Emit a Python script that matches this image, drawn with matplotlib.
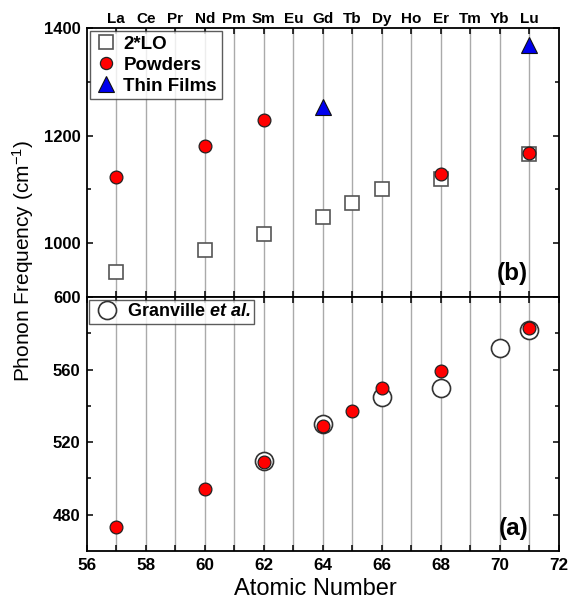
import matplotlib
matplotlib.use("Agg")
import matplotlib.pyplot as plt
from matplotlib.ticker import MultipleLocator, FixedLocator

plt.rcParams['font.family'] = ['Liberation Sans', 'DejaVu Sans']
plt.rcParams['mathtext.fontset'] = 'custom'
plt.rcParams['mathtext.rm'] = 'Liberation Sans'
plt.rcParams['mathtext.it'] = 'Liberation Sans:italic'
plt.rcParams['mathtext.bf'] = 'Liberation Sans:bold'
plt.rcParams['mathtext.bfit'] = 'Liberation Sans:italic:bold'

elements = ["La", "Ce", "Pr", "Nd", "Pm", "Sm", "Eu", "Gd", "Tb", "Dy", "Ho", "Er", "Tm", "Yb", "Lu"]
element_z = [57, 58, 59, 60, 61, 62, 63, 64, 65, 66, 67, 68, 69, 70, 71]

# top panel (b)
lo2_z = [57, 60, 62, 64, 65, 66, 68, 71]
lo2_f = [946, 988, 1018, 1048, 1074, 1100, 1119, 1166]
powder2_z = [57, 60, 62, 68, 71]
powder2_f = [1124, 1181, 1229, 1128, 1168]
film_z = [64, 71]
film_f = [1253, 1369]

# bottom panel (a)
gran_z = [62, 64, 66, 68, 70, 71]
gran_f = [509.7, 530, 545, 550, 572, 582]
powder_z = [57, 60, 62, 64, 65, 66, 68, 71]
powder_f = [473, 494, 509, 529, 537, 550, 559, 583]

fig = plt.figure(figsize=(5.72, 5.99), dpi=100)
L, R = 0.1516, 0.9773
axb = fig.add_axes([L, 0.5042, R - L, 0.9528 - 0.5042])
axa = fig.add_axes([L, 0.0801, R - L, 0.5042 - 0.0801])

for ax in (axa, axb):
    ax.set_xlim(56, 72)
    for z in element_z:
        ax.axvline(z, color='#aaaaaa', lw=1.0, zorder=0)
    for s in ax.spines.values():
        s.set_linewidth(1.3)
    ax.tick_params(axis='y', which='both', direction='in', labelsize=12, width=1.1,
                   length=4, left=True, right=True, pad=4.5)
    ax.tick_params(axis='y', which='minor', length=3)
    ax.tick_params(axis='x', which='both', direction='in', length=4, width=1.1,
                   top=True, bottom=True)

# top panel
axb.set_ylim(900, 1400)
axb.yaxis.set_major_locator(FixedLocator([1000, 1200, 1400]))
axb.yaxis.set_minor_locator(FixedLocator([1100, 1300]))
axb.plot(lo2_z, lo2_f, 's', ms=10, mfc='white', mec='#555555', mew=1.2, label='2*LO', zorder=3)
axb.plot(powder2_z, powder2_f, 'o', ms=9.2, mfc='#ff0000', mec='#222222', mew=0.9, label='Powders', zorder=4)
axb.plot(film_z, film_f, '^', ms=12, mfc='#0000ee', mec='#111111', mew=0.8, label='Thin Films', zorder=4)
axb.set_xticks(element_z)
axb.set_xticklabels(elements, fontsize=11, fontweight='bold')
axb.tick_params(axis='x', pad=1.5, labeltop=True, labelbottom=False, top=True, bottom=True)
for lab in axb.get_yticklabels():
    lab.set_fontweight('bold')
leg = axb.legend(loc='upper left', prop={'weight': 'bold', 'size': 13.5},
                 frameon=True, fancybox=False, edgecolor='#333333', borderaxespad=0.15,
                 handletextpad=0.25, labelspacing=0.2, borderpad=0.25, handlelength=1.3,
                 markerscale=0.95)
leg.get_frame().set_linewidth(1.0)
axb.text(0.935, 0.045, '(b)', transform=axb.transAxes, ha='right', va='bottom',
         fontsize=17.5, fontweight='bold')

# bottom panel
axa.set_ylim(460, 600)
axa.yaxis.set_major_locator(FixedLocator([480, 520, 560, 600]))
axa.yaxis.set_minor_locator(FixedLocator([500, 540, 580]))
axa.plot(gran_z, gran_f, 'o', ms=13, mfc='white', mec='#333333', mew=1.2,
         label=r'Granville $\mathbfit{et\ al.}$', zorder=3)
axa.plot(powder_z, powder_f, 'o', ms=9.2, mfc='#ff0000', mec='#222222', mew=0.9, zorder=4)
axa.xaxis.set_major_locator(MultipleLocator(2))
axa.xaxis.set_minor_locator(MultipleLocator(1))
axa.tick_params(axis='x', labelsize=12.3, pad=5)
for lab in axa.get_xticklabels() + axa.get_yticklabels():
    lab.set_fontweight('bold')
leg2 = axa.legend(loc='upper left', prop={'weight': 'bold', 'size': 13},
                  frameon=True, fancybox=False, edgecolor='#333333', borderaxespad=0.15,
                  handletextpad=0.4, borderpad=0.2, handlelength=1.5)
leg2.get_frame().set_linewidth(1.0)
axa.text(0.935, 0.045, '(a)', transform=axa.transAxes, ha='right', va='bottom',
         fontsize=17.5, fontweight='bold')

fig.text(315 / 572, 1 - 589 / 599, 'Atomic Number', ha='center', va='center', fontsize=17)
fig.text(23 / 572, 1 - 261 / 599, r'Phonon Frequency (cm$^{\mathregular{-1}}$)', rotation=90,
         ha='center', va='center', fontsize=15)

fig.savefig('out.png', dpi=100)
